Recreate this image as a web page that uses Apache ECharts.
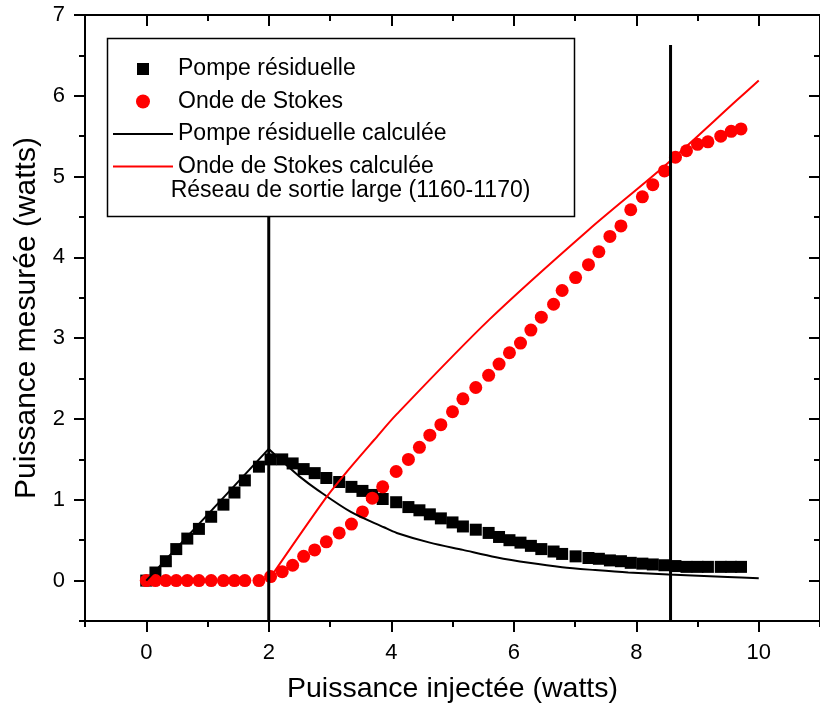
<!DOCTYPE html>
<html>
<head>
<meta charset="utf-8">
<script src="https://cdn.jsdelivr.net/npm/echarts@6/dist/echarts.min.js"></script>
<style>
html,body{margin:0;padding:0;background:#fff;}
#chart{width:820px;height:710px;}
</style>
</head>
<body>
<div id="chart"></div>
<script>
// ---- data ----
const xInjected = [0, 0.15, 0.32, 0.49, 0.67, 0.86, 1.06, 1.26, 1.44, 1.61, 1.84, 2.03, 2.22, 2.39, 2.57, 2.75, 2.94, 3.15, 3.35, 3.53, 3.69, 3.86, 4.08, 4.28, 4.46, 4.63, 4.81, 5.00, 5.17, 5.38, 5.59, 5.76, 5.93, 6.11, 6.28, 6.45, 6.65, 6.79, 7.01, 7.22, 7.39, 7.57, 7.75, 7.91, 8.10, 8.27, 8.46, 8.64, 8.82, 9.00, 9.17, 9.38, 9.55, 9.71];
const pompeMeasured = [0, 0.10, 0.24, 0.39, 0.52, 0.64, 0.79, 0.94, 1.09, 1.24, 1.41, 1.50, 1.50, 1.45, 1.38, 1.33, 1.27, 1.22, 1.16, 1.11, 1.06, 1.01, 0.97, 0.91, 0.87, 0.82, 0.77, 0.72, 0.67, 0.63, 0.59, 0.54, 0.50, 0.47, 0.43, 0.39, 0.36, 0.33, 0.30, 0.28, 0.27, 0.25, 0.24, 0.22, 0.21, 0.20, 0.19, 0.18, 0.17, 0.17, 0.17, 0.17, 0.17, 0.17];
const stokesMeasured = [0, 0, 0, 0, 0, 0, 0, 0, 0, 0, 0, 0.05, 0.11, 0.19, 0.30, 0.38, 0.48, 0.59, 0.70, 0.85, 1.02, 1.16, 1.35, 1.50, 1.65, 1.80, 1.93, 2.09, 2.25, 2.39, 2.54, 2.68, 2.82, 2.94, 3.10, 3.26, 3.42, 3.59, 3.75, 3.91, 4.07, 4.26, 4.39, 4.59, 4.75, 4.90, 5.07, 5.24, 5.32, 5.40, 5.43, 5.50, 5.56, 5.59];
const pompeRiseX = [0, 2.0];
const pompeRiseY = [0, 1.63];
const pompeDecayX = [2.0, 2.26, 2.5, 2.8, 3.34, 3.88, 4.09, 4.63, 5.17, 5.71, 6.25, 6.79, 7.33, 7.87, 8.53, 9.49, 10.0];
const pompeDecayY = [1.63, 1.45, 1.29, 1.12, 0.85, 0.66, 0.59, 0.47, 0.38, 0.29, 0.22, 0.165, 0.13, 0.10, 0.075, 0.045, 0.03];
const stokesCalcX = [2.02, 2.93, 3.3, 3.72, 4.09, 5.6, 7.22, 8.49, 9.65, 10.0];
const stokesCalcY = [0.03, 1.02, 1.37, 1.74, 2.06, 3.23, 4.34, 5.15, 5.95, 6.19];
const gratingX = [2.0, 8.56];
const gratingTop = 6.63;
const xMajorTicks = [0, 2, 4, 6, 8, 10];
const xMinorTicks = [-1, 1, 3, 5, 7, 9, 11];
const yMajorTicks = [0, 1, 2, 3, 4, 5, 6, 7];
const yMinorTicks = [-0.5, 0.5, 1.5, 2.5, 3.5, 4.5, 5.5, 6.5];
const names = ['Pompe résiduelle', 'Onde de Stokes', 'Pompe résiduelle calculée', 'Onde de Stokes calculée', 'Réseau de sortie large (1160-1170)'];
const xTitle = 'Puissance injectée (watts)';
const yTitle = 'Puissance mesurée (watts)';

// ---- chart ----
const FONT = 'Liberation Sans, Arial, sans-serif';
const X_MIN = -1, X_MAX = 11, Y_MIN = -0.5, Y_MAX = 7;
const lineAx = { show: true, onZero: false, lineStyle: { color: '#000', width: 2 } };

function xAx(pos, ticks, len, inside, withLabel) {
  const a = {
    type: 'value', position: pos, min: X_MIN, max: X_MAX, interval: 1,
    axisLine: lineAx,
    splitLine: { show: false },
    axisTick: { show: true, inside: inside, length: len, customValues: ticks, lineStyle: { color: '#000', width: 2 } },
    axisLabel: { show: false }
  };
  if (withLabel) {
    a.axisLabel = { show: true, customValues: xMajorTicks, fontSize: 22, fontFamily: FONT, color: '#000', margin: 21 };
    a.name = xTitle;
    a.nameLocation = 'middle';
    a.nameGap = 54;
    a.nameTextStyle = { fontSize: 28.5, fontFamily: FONT, color: '#000' };
  }
  return a;
}
function yAx(pos, ticks, len, inside, withLabel) {
  const a = {
    type: 'value', position: pos, min: Y_MIN, max: Y_MAX, interval: 0.5,
    axisLine: lineAx,
    splitLine: { show: false },
    axisTick: { show: true, inside: inside, length: len, customValues: ticks, lineStyle: { color: '#000', width: 2 } },
    axisLabel: { show: false }
  };
  if (withLabel) {
    a.axisLabel = { show: true, customValues: yMajorTicks, fontSize: 22, fontFamily: FONT, color: '#000', margin: 20 };
    a.name = yTitle;
    a.nameLocation = 'middle';
    a.nameGap = 43;
    a.nameTextStyle = { fontSize: 30, fontFamily: FONT, color: '#000' };
  }
  return a;
}

const squareIcon = 'path://M0,0M14,14M1,1L13,1L13,13L1,13Z';
const lineIcon = 'path://M0,0M60,14M0,6L60,6L60,8L0,8Z';
const legendText = { fontSize: 23, fontFamily: FONT, color: '#000', lineHeight: 21 };

const chart = echarts.init(document.getElementById('chart'), null, { renderer: 'canvas' });
const option = {
  backgroundColor: '#fff',
  animation: false,
  grid: { left: 85, right: -7, top: 15, bottom: 89, containLabel: false },
  xAxis: [
    xAx('bottom', xMajorTicks, 11, false, true),
    xAx('bottom', xMinorTicks, 6, false, false),
    xAx('top', xMajorTicks, 11, true, false),
    xAx('top', xMinorTicks, 6, true, false)
  ],
  yAxis: [
    yAx('left', yMajorTicks, 11, false, true),
    yAx('left', yMinorTicks, 6, false, false),
    yAx('right', yMajorTicks, 11, true, false),
    yAx('right', yMinorTicks, 6, true, false)
  ],
  legend: [
    {
      z: 30, orient: 'vertical', left: 113, top: 57.5, padding: 0,
      itemWidth: 60, itemHeight: 14, itemGap: 9.5, selectedMode: false,
      textStyle: legendText,
      data: [
        { name: names[0], icon: squareIcon },
        { name: names[1], icon: 'circle' },
        { name: names[2], icon: lineIcon },
        { name: names[3], icon: lineIcon }
      ]
    },
    {
      z: 30, orient: 'vertical', left: 164.7, top: 179.5, padding: 0,
      itemWidth: 1, itemHeight: 14, selectedMode: false,
      textStyle: legendText,
      data: [{ name: names[4], icon: 'none' }]
    }
  ],
  graphic: {
    z: 20,
    elements: [
      { type: 'rect', z: 20, shape: { x: 107.5, y: 38.5, width: 467, height: 178 },
        style: { fill: '#fff', stroke: '#000', lineWidth: 1.5 } }
    ]
  },
  series: [
    { name: names[0], type: 'scatter', symbol: 'rect', symbolSize: 12,
      itemStyle: { color: '#000', opacity: 1 }, data: xInjected.map((x, i) => [x, pompeMeasured[i]]) },
    { name: names[1], type: 'scatter', symbol: 'circle', symbolSize: 13,
      itemStyle: { color: '#ff0000', opacity: 1 }, data: xInjected.map((x, i) => [x, stokesMeasured[i]]) },
    { name: names[2], type: 'line', symbol: 'none', color: '#000',
      lineStyle: { color: '#000', width: 2 }, data: pompeRiseX.map((x, i) => [x, pompeRiseY[i]]) },
    { name: names[2], type: 'line', symbol: 'none', color: '#000', smooth: 0.3,
      lineStyle: { color: '#000', width: 2 }, data: pompeDecayX.map((x, i) => [x, pompeDecayY[i]]) },
    { name: names[3], type: 'line', symbol: 'none', color: '#ff0000', smooth: 0.3,
      lineStyle: { color: '#ff0000', width: 2 }, data: stokesCalcX.map((x, i) => [x, stokesCalcY[i]]) },
    { name: names[4], type: 'line', symbol: 'none', color: '#000',
      lineStyle: { color: '#000', width: 3 }, data: [[gratingX[0], Y_MIN], [gratingX[0], gratingTop]] },
    { name: names[4], type: 'line', symbol: 'none', color: '#000',
      lineStyle: { color: '#000', width: 3 }, data: [[gratingX[1], Y_MIN], [gratingX[1], gratingTop]] }
  ]
};
chart.setOption(option);
</script>
</body>
</html>
